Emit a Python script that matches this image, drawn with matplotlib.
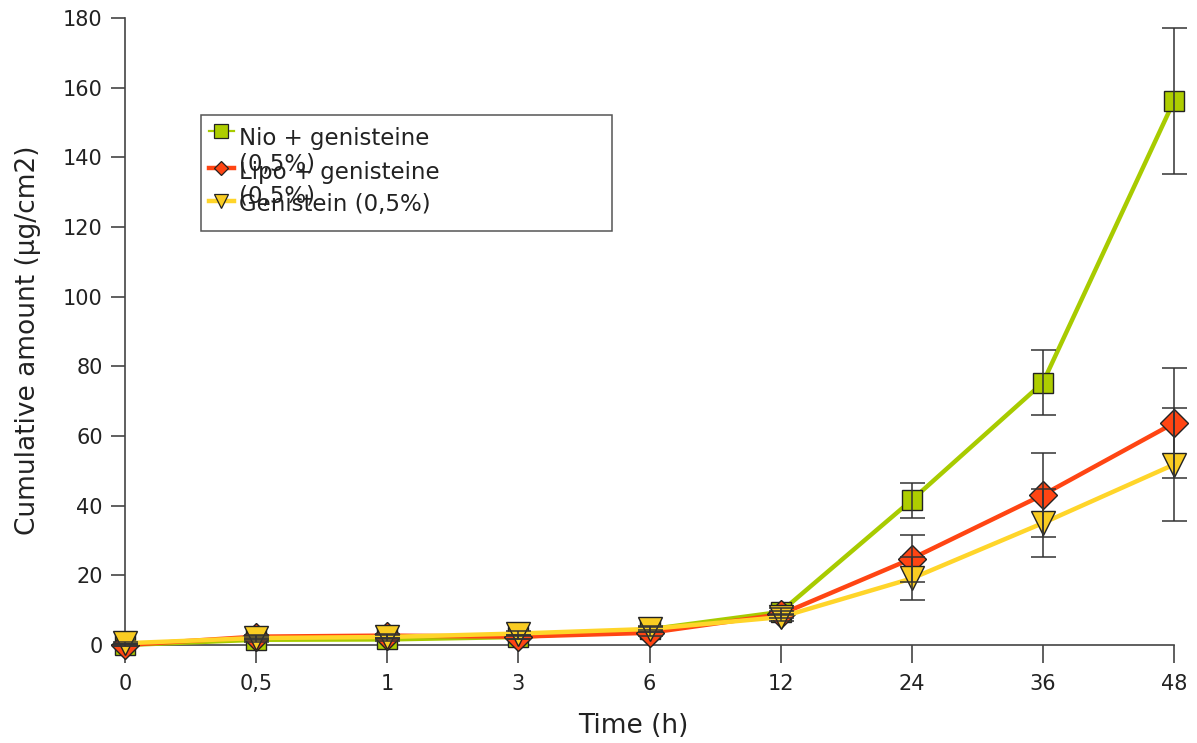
import matplotlib
matplotlib.use("Agg")
import matplotlib.pyplot as plt
from matplotlib.lines import Line2D
from matplotlib.patches import Rectangle
import numpy as np

plt.rcParams['font.family'] = ['DejaVu Sans']

# Sampling times (h) shown as evenly spaced categories
time_labels = ["0", "0,5", "1", "3", "6", "12", "24", "36", "48"]

# Cumulative amount permeated (µg/cm2)
nio_mean = [0.0, 1.5, 1.6, 2.3, 4.5, 9.5, 41.6, 75.3, 156.2]
nio_err = [0.3, 0.5, 0.5, 0.6, 0.8, 1.0, 5.0, 9.4, 21.0]

lipo_mean = [0.0, 2.4, 2.7, 2.4, 3.5, 8.8, 24.8, 43.1, 63.7]
lipo_err = [0.3, 0.6, 0.6, 0.6, 0.8, 1.0, 6.8, 12.0, 15.8]

gen_mean = [0.5, 2.0, 2.3, 3.3, 4.6, 8.0, 19.1, 35.0, 51.8]
gen_err = [0.3, 0.5, 0.5, 0.6, 0.8, 1.0, 6.2, 9.7, 16.1]

series_labels = [["Nio + genisteine", "(0,5%)"],
                 ["Lipo + genisteine", "(0,5%)"],
                 ["Genistein (0,5%)"]]

W, H = 1197, 743
fig = plt.figure(figsize=(W / 100, H / 100), dpi=100)
ax = fig.add_axes([125 / W, 1 - 645 / H, (1174 - 125) / W, (645 - 18) / H])

x = np.arange(len(time_labels))

styles = [
    dict(color="#A8CB00", mfc="#AECD00", marker="s", ms=15, lw=3.2),
    dict(color="#FF4513", mfc="#FF4513", marker="D", ms=14, lw=3.2),
    dict(color="#FFD52A", mfc="#F9CC22", marker="v", ms=17.5, lw=3.2),
]
means = [nio_mean, lipo_mean, gen_mean]
errs = [nio_err, lipo_err, gen_err]

for i, (m, st) in enumerate(zip(means, styles)):
    ax.plot(x, m, color=st["color"], lw=st["lw"], marker=st["marker"],
            ms=st["ms"], mfc=st["mfc"], mec="#222222", mew=1.0,
            zorder=3 + i, clip_on=False)

for m, e in zip(means, errs):
    ax.errorbar(x, m, yerr=e, fmt="none", ecolor="#333333", elinewidth=1.1,
                capsize=9, capthick=1.1, zorder=10, clip_on=False)

ax.set_xlim(0, len(time_labels) - 1)
ax.set_ylim(0, 180)
ax.set_xticks(x)
ax.set_xticklabels(time_labels)
ax.set_yticks(np.arange(0, 181, 20))

for s in ("top", "right"):
    ax.spines[s].set_visible(False)
for s in ("left", "bottom"):
    ax.spines[s].set_color("#444444")
    ax.spines[s].set_linewidth(1.2)
    ax.spines[s].set_zorder(2)

ax.tick_params(axis="y", direction="out", length=10, width=1.2, color="#444444",
               labelsize=15, pad=6, labelcolor="#222222")
ax.tick_params(axis="x", direction="out", length=13, width=1.2, color="#444444",
               labelsize=15, pad=8, labelcolor="#222222")


def fx(px):
    return px / W


def fy(py):
    return 1 - py / H


ax.set_xlabel("Time (h)", fontsize=19, color="#222222")
ax.xaxis.set_label_coords(fx(633), fy(713), transform=fig.transFigure)
ax.set_ylabel("Cumulative amount (µg/cm2)", fontsize=19, color="#222222")
ax.yaxis.set_label_coords(fx(41), fy(340), transform=fig.transFigure)

# Legend drawn by hand so the wrapped labels sit on a compact row pitch
fig.patches.append(Rectangle((fx(201), fy(231)), fx(612) - fx(201), fy(115) - fy(231),
                             transform=fig.transFigure, fill=True, facecolor="white",
                             edgecolor="#555555", lw=1.1, zorder=20))

handle_y = [131, 168, 201]
text_y = [[138, 164], [173, 197], [205]]
handle_lw = [1.6, 3.2, 3.2]
handle_ms = [10, 7.2, 9.5]
for i, st in enumerate(styles):
    fig.lines.append(Line2D([fx(209), fx(234)], [fy(handle_y[i])] * 2, transform=fig.transFigure,
                            color=st["color"], lw=handle_lw[i], zorder=21))
    fig.lines.append(Line2D([fx(221)], [fy(handle_y[i])], transform=fig.transFigure,
                            marker=st["marker"], ms=handle_ms[i], mfc=st["mfc"],
                            mec="#222222", mew=0.9, lw=0, zorder=22))
    for line, ty in zip(series_labels[i], text_y[i]):
        fig.text(fx(239), fy(ty), line, fontsize=16.5, color="#222222",
                 va="center", ha="left", zorder=23)

fig.savefig("out.png", dpi=100)
